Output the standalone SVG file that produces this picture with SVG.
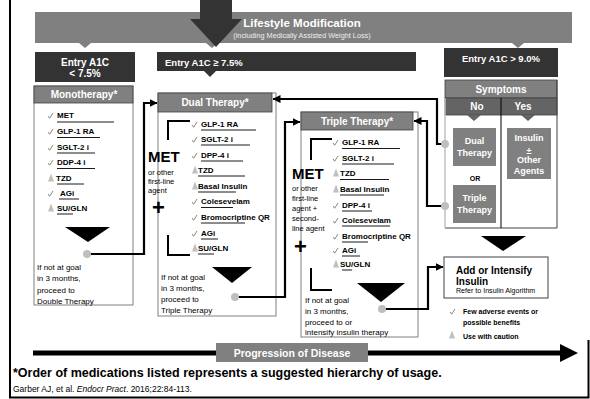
<svg xmlns="http://www.w3.org/2000/svg" width="590" height="399" viewBox="0 0 590 399">
<style>
text{font-family:"Liberation Sans",Arial,sans-serif}
.w{fill:#fff;font-weight:bold}
.it{font-size:8px;font-weight:bold;fill:#000}
.sm{font-size:8px;fill:#000}
.ul{stroke:#000;stroke-width:0.9}
.hd{fill:#808080;stroke:#404040;stroke-width:0.8}
.body{fill:#fff;stroke:#808080;stroke-width:1}
.br{fill:none;stroke:#000;stroke-width:2}
.cn{fill:none;stroke:#000;stroke-width:2.2}
.dot{fill:#bfbfbf}
.ck{fill:none;stroke:#666;stroke-width:0.8}
.tri{fill:#c0c0c0}
.met{font-size:15px;font-weight:bold}
.sub{font-size:7.5px}
.plus{font-size:22px;font-weight:bold}
</style>
<defs>
<path id="ck" class="ck" d="M0,0 L1.7,2.2 L5,-3"/>
<path id="tr" class="tri" d="M3,-4.5 L6,3.5 L0,3.5 Z"/>
<marker id="ah" viewBox="0 0 8 8" refX="7.5" refY="4" markerWidth="8" markerHeight="8" markerUnits="userSpaceOnUse" orient="auto">
<path d="M0,0 L8,4 L0,8 Z" fill="#000"/>
</marker>
</defs>
<rect width="590" height="399" fill="#fff"/>
<g id="frame" stroke="#000" stroke-width="2" fill="none">
<path d="M10,0 V397.5 H588.5 V340"/>
</g>
<g id="lifestyle">
<rect x="35" y="12" width="537" height="31" fill="#808080"/>
<path d="M79,43 L91,43 L85,48 Z M206,43 L218,43 L212,48 Z M512,43 L524,43 L518,48 Z" fill="#808080"/>
<polygon points="200,0 232,0 232,19 242,19 216,47 190,19 200,19" fill="#333"/>
<text x="302" y="26.5" class="w" font-size="11.5" text-anchor="middle">Lifestyle Modification</text>
<text x="302" y="37.5" fill="#eee" font-size="7.3" text-anchor="middle">(including Medically Assisted Weight Loss)</text>
</g>
<g id="entry-lt75">
<rect x="35" y="52" width="100" height="30" fill="#333"/>
<text x="85" y="66" class="w" font-size="10" text-anchor="middle">Entry A1C</text>
<text x="85" y="77" class="w" font-size="10" text-anchor="middle">&lt; 7.5%</text>
</g>
<g id="entry-ge75">
<rect x="157" y="52" width="259" height="19" fill="#333"/>
<path d="M204,71 L216,71 L210,77 Z" fill="#333"/>
<text x="165" y="65.5" class="w" font-size="9.5">Entry A1C ≥ 7.5%</text>
</g>
<g id="entry-gt90">
<rect x="444" y="48" width="114" height="29" fill="#333"/>
<text x="501" y="61.5" class="w" font-size="9.5" text-anchor="middle">Entry A1C &gt; 9.0%</text>
</g>
<g id="monotherapy">
<rect x="34" y="86" width="99" height="219" class="body"/>
<rect x="34" y="86" width="99" height="17" class="hd"/>
<text x="84" y="98" class="w" font-size="10" text-anchor="middle">Monotherapy*</text>
<use href="#ck" x="48" y="116"/><text x="57" y="118" class="it">MET</text><line x1="57" y1="122" x2="114" y2="122" class="ul"/>
<use href="#ck" x="48" y="132"/><text x="57" y="134" class="it">GLP-1 RA</text><line x1="57" y1="137.5" x2="100" y2="137.5" class="ul"/>
<use href="#ck" x="48" y="148"/><text x="57" y="150" class="it">SGLT-2 i</text><line x1="57" y1="153" x2="95" y2="153" class="ul"/>
<use href="#ck" x="48" y="163"/><text x="57" y="165" class="it">DDP-4 i</text><line x1="57" y1="168.5" x2="95" y2="168.5" class="ul"/>
<use href="#tr" x="48" y="178"/><text x="56" y="181" class="it">TZD</text><line x1="57" y1="184" x2="84" y2="184" class="ul"/>
<use href="#ck" x="48" y="194"/><text x="60" y="196" class="it">AGi</text><line x1="59" y1="199" x2="79" y2="199" class="ul"/>
<use href="#tr" x="48" y="208"/><text x="57" y="211" class="it">SU/GLN</text><line x1="57" y1="214" x2="73" y2="214" class="ul"/>
<polygon points="65,227 110,227 88,242" fill="#000"/>
<text x="37" y="269.5" class="sm">If not at goal</text>
<text x="37" y="281" class="sm">in 3 months,</text>
<text x="37" y="292.5" class="sm">proceed to</text>
<text x="37" y="303.5" class="sm">Double Therapy</text>
</g>
<g id="dual-therapy">
<rect x="158" y="93" width="118" height="223" class="body"/>
<rect x="158" y="93" width="114" height="19" class="hd"/>
<text x="215" y="106" class="w" font-size="10" text-anchor="middle">Dual Therapy*</text>
<path d="M190,121 H168 V140 M168,235 V255 H190" class="br"/>
<text x="148" y="162" class="met">MET</text>
<text x="148" y="174.5" class="sub">or other</text>
<text x="148" y="184" class="sub">first-line</text>
<text x="148" y="193" class="sub">agent</text>
<text x="152" y="215" class="plus">+</text>
<use href="#ck" x="192" y="125"/><text x="201" y="127" class="it">GLP-1 RA</text><line x1="201" y1="130" x2="256" y2="130" class="ul"/>
<use href="#ck" x="192" y="140"/><text x="201" y="142" class="it">SGLT-2 i</text><line x1="201" y1="145" x2="250" y2="145" class="ul"/>
<use href="#ck" x="192" y="156"/><text x="201" y="158" class="it">DPP-4 i</text><line x1="201" y1="161" x2="243" y2="161" class="ul"/>
<use href="#tr" x="192" y="170"/><text x="198" y="173" class="it">TZD</text><line x1="198" y1="176" x2="245" y2="176" class="ul"/>
<use href="#tr" x="192" y="186"/><text x="198" y="189" class="it">Basal Insulin</text><line x1="198" y1="192" x2="236" y2="192" class="ul"/>
<use href="#ck" x="192" y="202"/><text x="201" y="204" class="it">Colesevelam</text><line x1="201" y1="207.5" x2="233" y2="207.5" class="ul"/>
<use href="#ck" x="192" y="218"/><text x="201" y="220" class="it">Bromocriptine QR</text><line x1="201" y1="223" x2="245" y2="223" class="ul"/>
<use href="#ck" x="192" y="234"/><text x="201" y="236" class="it">AGi</text><line x1="201" y1="239" x2="218" y2="239" class="ul"/>
<use href="#tr" x="192" y="248"/><text x="198" y="251" class="it">SU/GLN</text><line x1="198" y1="254" x2="214" y2="254" class="ul"/>
<polygon points="212,267 252,267 232,283" fill="#000"/>
<text x="161" y="279.5" class="sm">If not at goal</text>
<text x="161" y="291" class="sm">in 3 months,</text>
<text x="161" y="302" class="sm">proceed to</text>
<text x="161" y="313" class="sm">Triple Therapy</text>
</g>
<g id="triple-therapy">
<rect x="301" y="112" width="117" height="225" class="body"/>
<rect x="301" y="112" width="112" height="18" class="hd"/>
<text x="357" y="124.5" class="w" font-size="10" text-anchor="middle">Triple Therapy*</text>
<path d="M332,139 H311 V160 M311,268 V290 H332" class="br"/>
<text x="292" y="179" class="met">MET</text>
<text x="292" y="190.5" class="sub">or other</text>
<text x="292" y="200.5" class="sub">first-line</text>
<text x="292" y="210.5" class="sub">agent +</text>
<text x="292" y="220.5" class="sub">second-</text>
<text x="292" y="230.5" class="sub">line agent</text>
<text x="294" y="254" class="plus">+</text>
<use href="#ck" x="333" y="143"/><text x="342" y="145" class="it">GLP-1 RA</text><line x1="342" y1="148.5" x2="400" y2="148.5" class="ul"/>
<use href="#ck" x="333" y="159"/><text x="342" y="161" class="it">SGLT-2 i</text><line x1="342" y1="164" x2="394" y2="164" class="ul"/>
<use href="#tr" x="333" y="173"/><text x="340" y="176" class="it">TZD</text><line x1="340" y1="179.5" x2="389" y2="179.5" class="ul"/>
<use href="#tr" x="333" y="189"/><text x="340" y="192" class="it">Basal Insulin</text><line x1="340" y1="195" x2="384" y2="195" class="ul"/>
<use href="#ck" x="333" y="206"/><text x="342" y="208" class="it">DPP-4 i</text><line x1="342" y1="211" x2="372" y2="211" class="ul"/>
<use href="#ck" x="333" y="221"/><text x="342" y="223" class="it">Colesevelam</text><line x1="342" y1="226" x2="390" y2="226" class="ul"/>
<use href="#ck" x="333" y="237"/><text x="342" y="239" class="it">Bromocriptine QR</text><line x1="342" y1="242" x2="368" y2="242" class="ul"/>
<use href="#ck" x="333" y="251"/><text x="342" y="253" class="it">AGi</text><line x1="342" y1="256" x2="360" y2="256" class="ul"/>
<use href="#tr" x="333" y="264"/><text x="340" y="267" class="it">SU/GLN</text><line x1="342" y1="270" x2="352" y2="270" class="ul"/>
<polygon points="357,283 405,283 381,302" fill="#000"/>
<text x="305" y="303" class="sm">If not at goal</text>
<text x="305" y="314" class="sm">in 3 months,</text>
<text x="305" y="325" class="sm">proceed to or</text>
<text x="305" y="334.5" class="sm">intensify insulin therapy</text>
</g>
<g id="symptoms">
<rect x="445" y="115" width="112" height="113" fill="#fff"/>
<rect x="445" y="80" width="112" height="18" class="hd"/>
<rect x="445" y="98" width="112" height="17" fill="#646464" stroke="#404040" stroke-width="0.8"/>
<path d="M467,115 L481,115 L474,121 Z M521,115 L535,115 L528,121 Z" fill="#646464"/>
<text x="501" y="93" class="w" font-size="10" text-anchor="middle">Symptoms</text>
<text x="477" y="110" class="w" font-size="10" text-anchor="middle">No</text>
<text x="523" y="110" class="w" font-size="10" text-anchor="middle">Yes</text>
<path d="M557,80 V228 H445" fill="none" stroke="#404040" stroke-width="1"/>
<line x1="445" y1="98" x2="445" y2="228" stroke="#c0c0c0" stroke-width="1.5"/>
<line x1="501" y1="98" x2="501" y2="228" stroke="#000" stroke-width="1"/>
<rect x="453" y="128" width="43" height="38" fill="#808080"/>
<text x="474.5" y="144" class="w" font-size="9" text-anchor="middle">Dual</text>
<text x="474.5" y="156" class="w" font-size="9" text-anchor="middle">Therapy</text>
<text x="475" y="180.5" font-size="7" font-weight="bold" text-anchor="middle">OR</text>
<rect x="453" y="185" width="43" height="38" fill="#808080"/>
<text x="474.5" y="200.7" class="w" font-size="9" text-anchor="middle">Triple</text>
<text x="474.5" y="212.5" class="w" font-size="9" text-anchor="middle">Therapy</text>
<rect x="507" y="128" width="44" height="51" fill="#808080"/>
<text x="529" y="140.7" class="w" font-size="9" text-anchor="middle">Insulin</text>
<text x="529" y="153.5" class="w" font-size="9" text-anchor="middle">±</text>
<text x="529" y="163" class="w" font-size="9" text-anchor="middle">Other</text>
<text x="529" y="174" class="w" font-size="9" text-anchor="middle">Agents</text>
<polygon points="481,236 526,236 503,251" fill="#000"/>
</g>
<g id="add-insulin">
<rect x="444" y="257" width="104" height="41" fill="#fff" stroke="#404040" stroke-width="1"/>
<text x="456" y="273.5" font-size="10" font-weight="bold">Add or Intensify</text>
<text x="456" y="284.5" font-size="10" font-weight="bold">Insulin</text>
<text x="456" y="293" font-size="7.1">Refer to Insulin Algorithm</text>
</g>
<g id="legend">
<use href="#ck" x="450" y="312"/>
<text x="463" y="313.5" font-size="7" font-weight="bold">Few adverse events or</text>
<text x="463" y="324.5" font-size="7" font-weight="bold">possible benefits</text>
<use href="#tr" x="449" y="335"/>
<text x="463" y="339" font-size="7" font-weight="bold">Use with caution</text>
</g>
<g id="progression">
<line x1="33" y1="353" x2="562" y2="353" stroke="#000" stroke-width="5"/>
<polygon points="560,344 578,353 560,362" fill="#000"/>
<rect x="216" y="343" width="152" height="19" fill="#808080"/>
<text x="292" y="357" class="w" font-size="10.5" text-anchor="middle">Progression of Disease</text>
</g>
<g id="footnote">
<text x="13" y="377" font-size="12.5" font-weight="bold">*Order of medications listed represents a suggested hierarchy of usage.</text>
<text x="13" y="392" font-size="8.5">Garber AJ, et al. <tspan font-style="italic">Endocr Pract</tspan>. 2016;22:84-113.</text>
</g>
<g id="connectors">
<path d="M87,254 H144 V103 H157" class="cn" marker-end="url(#ah)"/>
<path d="M235,297 H285 V122 H300" class="cn" marker-end="url(#ah)"/>
<path d="M382,309 H428 V267 H443" class="cn" marker-end="url(#ah)"/>
<path d="M445,144 H437 V99 H273" class="cn" marker-end="url(#ah)"/>
<path d="M445,206 H427 V121 H414" class="cn" marker-end="url(#ah)"/>
<circle cx="87" cy="254" r="4" class="dot"/>
<circle cx="235" cy="297" r="4" class="dot"/>
<circle cx="382" cy="309" r="4" class="dot"/>
<circle cx="445" cy="144" r="4" class="dot"/>
<circle cx="445" cy="206" r="4" class="dot"/>
</g>
</svg>
